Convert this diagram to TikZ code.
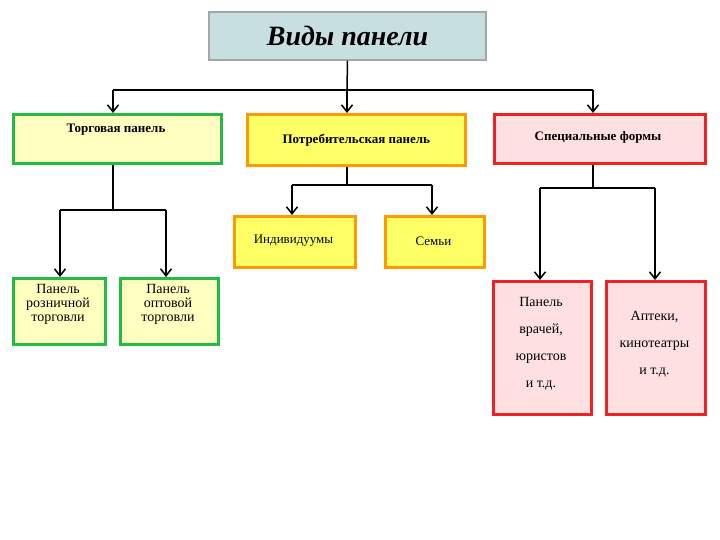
\documentclass[tikz,border=0pt]{standalone}
\usepackage{fontspec}
\setmainfont{Liberation Serif}
\usetikzlibrary{arrows.meta}
\definecolor{ttl}{HTML}{C8DFE2}
\definecolor{ly}{HTML}{FFFFC0}
\definecolor{yy}{HTML}{FFFF66}
\definecolor{pk}{HTML}{FFE0E0}
\definecolor{gr}{HTML}{22BB44}
\definecolor{orr}{HTML}{FF9900}
\definecolor{rd}{HTML}{EE2222}
\tikzset{
 bx/.style={draw,line width=2.6pt,inner sep=0pt,font=\fontsize{13}{16}\selectfont,align=center},
 gbox/.style={bx,fill=ly,draw=gr},
 obox/.style={bx,fill=yy,draw=orr},
 rbox/.style={bx,fill=pk,draw=rd},
 ln/.style={line width=1.5pt},
 ar/.style={ln,-{Straight Barb[length=7pt,width=11pt]}}
}
\begin{document}
\begin{tikzpicture}[x=1pt,y=-1pt]
\useasboundingbox (0,0) rectangle (720,540);
\node[bx,fill=ttl,draw=gray!70,line width=1.4pt,minimum width=277pt,minimum height=48pt,font=\fontsize{28}{32}\selectfont\bfseries\itshape] (t) at (347.5,36) {Виды панели};
\node[gbox,minimum width=208pt,minimum height=49pt,anchor=north west] (a) at (12,113) {};
\node[font=\fontsize{13}{16}\selectfont\bfseries] at (116,130) {Торговая панель};
\node[obox,minimum width=218pt,minimum height=51pt,anchor=north west,font=\fontsize{13}{16}\selectfont\bfseries] (b) at (246,113) {Потребительская панель};
\node[rbox,minimum width=211pt,minimum height=49pt,anchor=north west] (c) at (493,113) {};
\node[font=\fontsize{13}{16}\selectfont\bfseries] at (598,137) {Специальные формы};
\node[gbox,minimum width=92pt,minimum height=66pt,anchor=north west] (d) at (12,277) {};
\node[align=center,font=\fontsize{14}{14}\selectfont,anchor=north] at (58,281) {Панель\\розничной\\торговли};
\node[gbox,minimum width=98pt,minimum height=66pt,anchor=north west] (e) at (119,277) {};
\node[align=center,font=\fontsize{14}{14}\selectfont,anchor=north] at (168,281) {Панель\\оптовой\\торговли};
\node[obox,minimum width=121pt,minimum height=51pt,anchor=north west] (f) at (233,215) {};
\node[font=\fontsize{13}{16}\selectfont] at (293.5,241) {Индивидуумы};
\node[obox,minimum width=99pt,minimum height=51pt,anchor=north west] (g) at (384,215) {};
\node[font=\fontsize{13}{16}\selectfont] at (433.5,241) {Семьи};
\node[rbox,minimum width=98pt,minimum height=133pt,anchor=north west] (h) at (492,280) {};
\node[align=center,font=\fontsize{14}{27}\selectfont,anchor=north] at (541,294) {Панель\\врачей,\\юристов\\и т.д.};
\node[rbox,minimum width=99pt,minimum height=133pt,anchor=north west] (i) at (605,280) {};
\node[align=center,font=\fontsize{14}{27}\selectfont,anchor=north] at (654.5,308) {Аптеки,\\кинотеатры\\и т.д.};
% connectors
\coordinate (t1) at (347,90);
\draw[ln] (t.south) -- (t1);
\draw[ln] (113,90) -- (593,90);
\draw[ar] (113,90) -- (a.north -| 113,0);
\draw[ar] (t1) -- (b.north -| t1);
\draw[ar] (593,90) -- (c.north -| 593,0);
\draw[ln] (a.south -| 113,0) -- (113,210);
\draw[ln] (60,210) -- (166,210);
\draw[ar] (60,210) -- (d.north -| 60,0);
\draw[ar] (166,210) -- (e.north -| 166,0);
\draw[ln] (b.south -| t1) -- (347,185);
\draw[ln] (292,185) -- (432,185);
\draw[ar] (292,185) -- (f.north -| 292,0);
\draw[ar] (432,185) -- (g.north -| 432,0);
\draw[ln] (c.south -| 593,0) -- (593,188);
\draw[ln] (540,188) -- (655,188);
\draw[ar] (540,188) -- (h.north -| 540,0);
\draw[ar] (655,188) -- (i.north -| 655,0);
\end{tikzpicture}
\end{document}
